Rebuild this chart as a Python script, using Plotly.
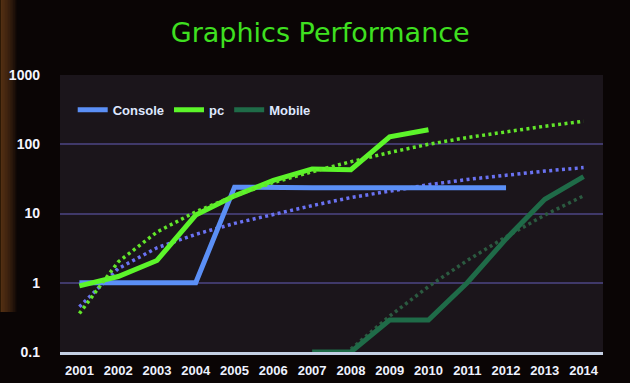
import plotly.graph_objects as go

years = list(range(2001, 2015))

console = [1.0, 1.0, 1.0, 1.0, 24, 23.5, 23.5, 23.5, 23.5, 23.5, 23.5, 23.5]
pc = [0.9, 1.23, 2.1, 9.5, 18, 30, 44, 43, 128, 162]
mobile_years = [2007, 2008, 2009, 2010, 2011, 2012, 2013, 2014]
mobile = [0.1, 0.1, 0.29, 0.29, 1.0, 4.3, 16, 34]

console_trend = [0.45, 1.6, 3.2, 5.0, 7.2, 9.8, 13, 17, 21, 26, 31, 36, 41, 46]
pc_trend = [0.36, 2.0, 5.4, 10.6, 18, 28, 40, 56, 76, 100, 125, 152, 182, 215]
mobile_trend_years = [2008, 2009, 2010, 2011, 2012, 2013, 2014]
mobile_trend = [0.11, 0.33, 0.88, 2.1, 4.6, 9.5, 18]

y_tickvals = [0.1, 1, 10, 100, 1000]
y_ticktext = ["0.1", "1", "10", "100", "1000"]

C_CONSOLE = "#5b8ff6"
C_PC = "#5cf52a"
C_MOBILE = "#1f6b48"

fig = go.Figure()

DOT = "3px,3.4px"
fig.add_trace(go.Scatter(x=years, y=console_trend, mode="lines", showlegend=False,
                         line=dict(color="#6a72f2", width=3.5, dash=DOT)))
fig.add_trace(go.Scatter(x=mobile_trend_years, y=mobile_trend, mode="lines", showlegend=False,
                         line=dict(color="#2b5a40", width=3.5, dash=DOT)))

fig.add_trace(go.Scatter(x=years[:len(console)], y=console, mode="lines", name="Console",
                         line=dict(color=C_CONSOLE, width=5)))
fig.add_trace(go.Scatter(x=years[:len(pc)], y=pc, mode="lines", name="pc",
                         line=dict(color=C_PC, width=5)))
fig.add_trace(go.Scatter(x=mobile_years, y=mobile, mode="lines", name="Mobile",
                         line=dict(color=C_MOBILE, width=5)))
fig.add_trace(go.Scatter(x=years, y=pc_trend, mode="lines", showlegend=False,
                         line=dict(color="#62e62a", width=3.5, dash=DOT)))

# soft warm vignette on the left edge of the photographed slide
W, H = 543.5, 277.0
shapes = []
for i in range(10):
    shapes.append(dict(type="rect", xref="paper", yref="paper",
                       x0=-59.5 / W, x1=(-59.5 + 1.6 * (i + 1)) / W,
                       y0=40 / H, y1=352 / H, line=dict(width=0),
                       fillcolor="#8a5020", opacity=0.09, layer="below"))

fig.update_layout(
    width=630, height=383,
    margin=dict(l=59.5, r=27, t=75, b=31),
    paper_bgcolor="#0a0505",
    plot_bgcolor="#1b151b",
    shapes=shapes,
    title=dict(text="Graphics Performance", x=(320 - 59.5) / W, xref="paper", xanchor="center",
               y=1 - 33 / 383, yref="container", yanchor="middle",
               font=dict(family="DejaVu Sans", size=27, color="#3fe020")),
    legend=dict(orientation="h", x=0.0234, y=0.874, xanchor="left", yanchor="middle",
                bgcolor="rgba(0,0,0,0)", itemwidth=30, tracegroupgap=0,
                font=dict(family="Liberation Sans", size=13, color="#dfe8ff", weight="bold")),
    xaxis=dict(range=[2000.5, 2014.5], tickmode="array", tickvals=years,
               ticktext=[str(y) for y in years], showgrid=False, zeroline=False,
               showline=True, linecolor="#c4cfe3", linewidth=3, automargin=False,
               ticks="", ticklabelstandoff=4,
               tickfont=dict(family="Liberation Sans Narrow, Liberation Sans",
                             size=13, color="#eef2ff", weight="bold")),
    yaxis=dict(type="log", range=[-1, 3], tickmode="array", tickvals=y_tickvals,
               ticktext=y_ticktext, showgrid=True, gridcolor="#40396a", gridwidth=1.5,
               zeroline=False, showline=False, ticks="", ticklabelstandoff=19, automargin=False,
               tickfont=dict(family="Liberation Sans", size=14, color="#f4f4ff", weight="bold")),
)

fig.write_html("out.html", config={"displayModeBar": False},
               post_script="document.body.style.margin='0';document.body.style.background='#0a0505';")
